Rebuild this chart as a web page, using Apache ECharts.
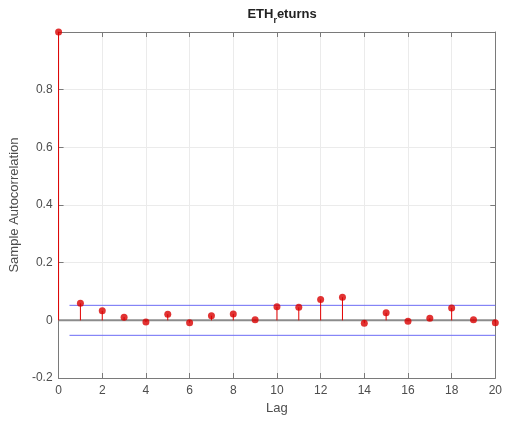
<!DOCTYPE html>
<html>
<head>
<meta charset="utf-8">
<script src="https://cdn.jsdelivr.net/npm/echarts@6/dist/echarts.min.js"></script>
<style>
  html, body { margin: 0; padding: 0; background: #fff; }
  #chart { width: 505px; height: 423px; }
</style>
</head>
<body>
<div id="chart"></div>
<script>
// Sample autocorrelation of ETH returns, lags 0..20
const lags = [0, 1, 2, 3, 4, 5, 6, 7, 8, 9, 10, 11, 12, 13, 14, 15, 16, 17, 18, 19, 20];
const acf = [1.0, 0.059, 0.033, 0.011, -0.006, 0.021, -0.008, 0.016, 0.022, 0.002, 0.047,
             0.045, 0.072, 0.080, -0.010, 0.026, -0.003, 0.007, 0.043, 0.002, -0.008];
// Approximate 95% confidence bounds
const boundLags = [0.5, 20];
const boundUpper = [0.052, 0.052];
const boundLower = [-0.052, -0.052];
const xTicks = [0, 2, 4, 6, 8, 10, 12, 14, 16, 18, 20];
const yTicks = [-0.2, 0, 0.2, 0.4, 0.6, 0.8];

const FONT = '"Liberation Sans", Arial, sans-serif';
const TEXT = '#4d4d4d';
const FRAME = '#7a7a7a';
const GRIDC = '#ebebeb';
const RED = '#e30000';

const stemData = lags.map((l, i) => [l, acf[i]]);

const chart = echarts.init(document.getElementById('chart'), null, { renderer: 'canvas' });

const baseX = {
  type: 'value', min: 0, max: 20, interval: 2,
  axisLine: { show: true, onZero: false, lineStyle: { color: FRAME, width: 1 } },
  axisTick: { show: true, inside: true, length: 5, lineStyle: { color: FRAME } },
  splitLine: { show: false }
};
const baseY = {
  type: 'value', min: -0.2, max: 1, interval: 0.2,
  axisLine: { show: true, onZero: false, lineStyle: { color: FRAME, width: 1 } },
  axisTick: { show: true, inside: true, length: 5, lineStyle: { color: FRAME } },
  splitLine: { show: false }
};

chart.setOption({
  animation: false,
  backgroundColor: '#fff',
  title: {
    text: 'ETH{sub|r}eturns',
    left: 277, top: -2, textAlign: 'center',
    textStyle: {
      fontFamily: FONT, fontSize: 13, fontWeight: 'bold', color: '#222',
      rich: {
        sub: { fontFamily: FONT, fontSize: 9, fontWeight: 'bold', color: '#222', padding: [13, 0, 0, 0] }
      }
    }
  },
  grid: { left: 58, right: 9, top: 32, bottom: 45, containLabel: false },
  xAxis: [
    Object.assign({}, baseX, {
      position: 'bottom',
      name: 'Lag', nameLocation: 'middle', nameGap: 24,
      nameTextStyle: { fontFamily: FONT, fontSize: 13, color: TEXT },
      axisLabel: {
        show: true, margin: 7, fontFamily: FONT, fontSize: 12, color: TEXT,
        customValues: xTicks
      },
      axisTick: { show: true, inside: true, length: 5, lineStyle: { color: FRAME }, customValues: xTicks },
      splitLine: { show: true, lineStyle: { color: GRIDC, width: 1 } }
    }),
    Object.assign({}, baseX, { position: 'top', axisLabel: { show: false } })
  ],
  yAxis: [
    Object.assign({}, baseY, {
      position: 'left',
      name: 'Sample Autocorrelation', nameLocation: 'middle', nameGap: 34,
      nameTextStyle: { fontFamily: FONT, fontSize: 13, color: TEXT },
      axisLabel: {
        show: true, margin: 6, fontFamily: FONT, fontSize: 12, color: TEXT,
        customValues: yTicks,
        formatter: v => (Math.abs(v) < 1e-9 ? '0' : String(Math.round(v * 10) / 10))
      },
      splitLine: { show: true, lineStyle: { color: GRIDC, width: 1 } }
    }),
    Object.assign({}, baseY, { position: 'right', axisLabel: { show: false } })
  ],
  series: [
    {
      // zero baseline for the stems
      type: 'line', xAxisIndex: 0, yAxisIndex: 0,
      data: [[0, 0], [20, 0]], symbol: 'none', silent: true,
      lineStyle: { color: '#8c8c8c', width: 2 }, z: 2
    },
    {
      type: 'line', data: boundLags.map((x, i) => [x, boundUpper[i]]),
      symbol: 'none', silent: true, lineStyle: { color: '#6b6bf5', width: 1 }, z: 3
    },
    {
      type: 'line', data: boundLags.map((x, i) => [x, boundLower[i]]),
      symbol: 'none', silent: true, lineStyle: { color: '#6b6bf5', width: 1 }, z: 3
    },
    {
      // stems from zero to each autocorrelation value
      type: 'custom', data: stemData, z: 4,
      renderItem: (params, api) => {
        const x = api.value(0), y = api.value(1);
        const p0 = api.coord([x, 0]);
        const p1 = api.coord([x, y]);
        return {
          type: 'line',
          shape: { x1: p0[0], y1: p0[1], x2: p1[0], y2: p1[1] },
          style: { stroke: RED, lineWidth: 1 }
        };
      }
    },
    {
      type: 'scatter', data: stemData, z: 5,
      symbol: 'circle', symbolSize: 7,
      itemStyle: { color: '#d90000' }
    }
  ]
});
</script>
</body>
</html>
